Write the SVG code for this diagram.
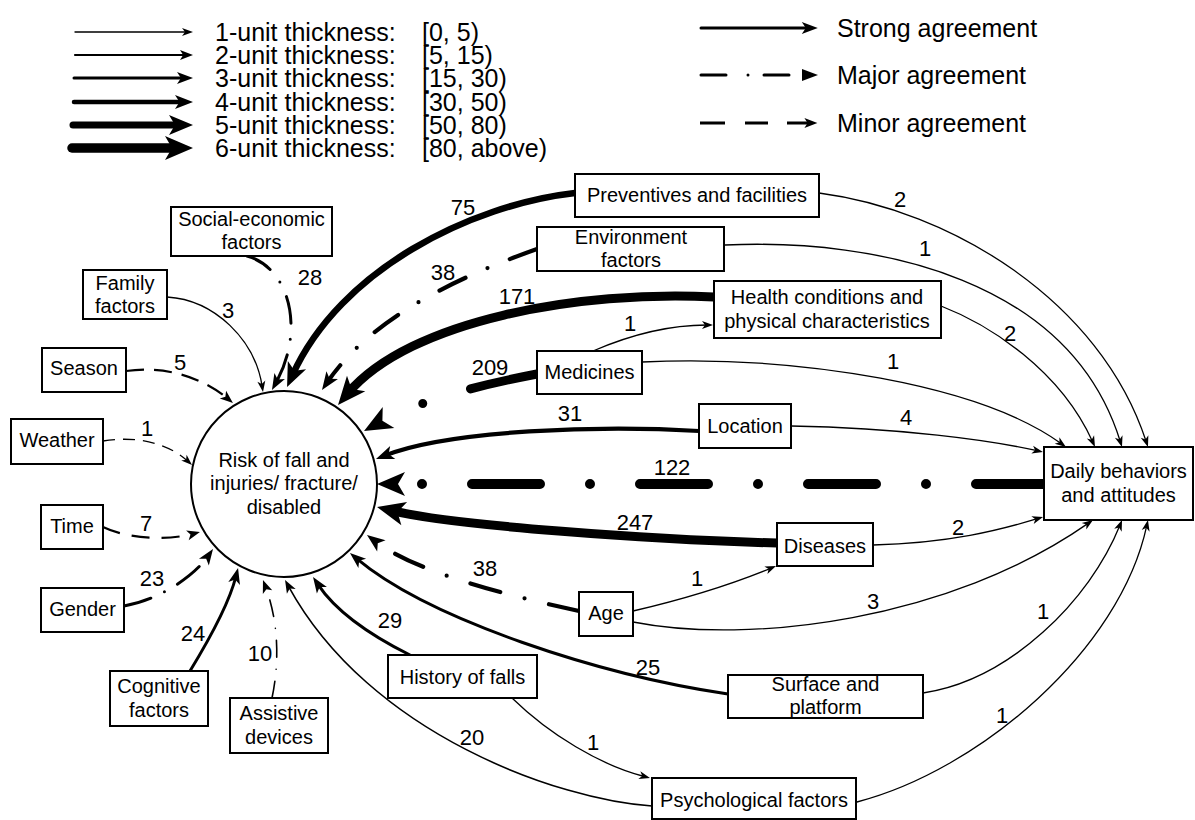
<svg xmlns="http://www.w3.org/2000/svg" width="1195" height="820" viewBox="0 0 1195 820">
<style>
text { font-family: "Liberation Sans", Arial, Helvetica, sans-serif; fill: #000; }
.lg { font-size: 25px; }
.nt { font-size: 20px; text-anchor: middle; }
.el { font-size: 22px; text-anchor: middle; }
.box { fill: #fff; stroke: #000; stroke-width: 2; }
.c { fill: none; stroke: #000; stroke-linecap: round; }
.mn { stroke-linecap: butt; }
.w1 { stroke-width: 1.3; }
.w15 { stroke-width: 1.6; }
.w2 { stroke-width: 2.2; }
.w3 { stroke-width: 3; }
.w4 { stroke-width: 4.2; }
.w5 { stroke-width: 6.5; }
.w6 { stroke-width: 9; }
.w6b { stroke-width: 10; }
</style>
<defs>
<marker id="s1" markerUnits="userSpaceOnUse" orient="auto" overflow="visible" markerWidth="1" markerHeight="1" refX="0" refY="0"><path d="M6,0 L-5,-4 L-2,0 L-5,4 Z"/></marker>
<marker id="s2" markerUnits="userSpaceOnUse" orient="auto" overflow="visible" markerWidth="1" markerHeight="1" refX="0" refY="0"><path d="M7.2,0 L-5.8,-5 L-2.6,0 L-5.8,5 Z"/></marker>
<marker id="s3" markerUnits="userSpaceOnUse" orient="auto" overflow="visible" markerWidth="1" markerHeight="1" refX="0" refY="0"><path d="M8.8,0 L-7.2,-6 L-3.2,0 L-7.2,6 Z"/></marker>
<marker id="s4" markerUnits="userSpaceOnUse" orient="auto" overflow="visible" markerWidth="1" markerHeight="1" refX="0" refY="0"><path d="M9.9,0 L-8.1,-7 L-3.6,0 L-8.1,7 Z"/></marker>
<marker id="s5" markerUnits="userSpaceOnUse" orient="auto" overflow="visible" markerWidth="1" markerHeight="1" refX="0" refY="0"><path d="M13.2,0 L-10.8,-10 L-4.8,0 L-10.8,10 Z"/></marker>
<marker id="s6" markerUnits="userSpaceOnUse" orient="auto" overflow="visible" markerWidth="1" markerHeight="1" refX="0" refY="0"><path d="M15.4,0 L-12.6,-12 L-5.6,0 L-12.6,12 Z"/></marker>
</defs>

<g id="legend">
<path class="c w1" d="M75,32 L187,32" marker-end="url(#s1)"/>
<path class="c w2" d="M75,55 L185.8,55" marker-end="url(#s2)"/>
<path class="c w3" d="M74,78 L184.2,78" marker-end="url(#s3)"/>
<path class="c" style="stroke-width:4.5" d="M74,102 L183.1,102" marker-end="url(#s4)"/>
<path class="c" style="stroke-width:7" d="M73,125 L179.8,125" marker-end="url(#s5)"/>
<path class="c" style="stroke-width:9.5" d="M72,148 L177.6,148" marker-end="url(#s6)"/>
<text class="lg" x="215" y="41">1-unit thickness:</text><text class="lg" x="422" y="41">[0, 5)</text>
<text class="lg" x="215" y="64">2-unit thickness:</text><text class="lg" x="422" y="64">[5, 15)</text>
<text class="lg" x="215" y="87">3-unit thickness:</text><text class="lg" x="422" y="87">[15, 30)</text>
<text class="lg" x="215" y="111">4-unit thickness:</text><text class="lg" x="422" y="111">[30, 50)</text>
<text class="lg" x="215" y="134">5-unit thickness:</text><text class="lg" x="422" y="134">[50, 80)</text>
<text class="lg" x="215" y="157">6-unit thickness:</text><text class="lg" x="422" y="157">[80, above)</text>

<path class="c w3" d="M701,28 L809,28" marker-end="url(#s3)"/>
<path class="c w3" d="M701,75 L726,75 M748,75 L748,75 M764,75 L789,75"/>
<path d="M802,69 L818,75 L802,81 Z"/>
<path class="c w3 mn" d="M700,123 L725,123 M745,123 L768,123 M787,123 L810.2,123" marker-end="url(#s2)"/>
<text class="lg" x="837" y="37">Strong agreement</text>
<text class="lg" x="837" y="84">Major agreement</text>
<text class="lg" x="837" y="132">Minor agreement</text>
</g>

<g id="connectors">
<!-- into Risk circle -->
<path class="c w3" style="stroke-dasharray:27 16 0 16" d="M247,256 C290,268 305,330 276.2,382.3" marker-end="url(#s3)"/>
<path class="c w1" d="M167,297 C215,300 255,340 262.1,386.1" marker-end="url(#s1)"/>
<path class="c w2 mn" style="stroke-dasharray:18 10" d="M126,371 C170,365 205,380 227.4,398.4" marker-end="url(#s2)"/>
<path class="c w1 mn" style="stroke-dasharray:12 8" d="M103,441 C140,435 170,445 187.6,461" marker-end="url(#s1)"/>
<path class="c w2 mn" style="stroke-dasharray:18 12" d="M103,527 C130,540 170,540 193,533.9" marker-end="url(#s2)"/>
<path class="c w3" style="stroke-dasharray:28 15 0 15" d="M124,606 C160,600 195,575 208,556.2" marker-end="url(#s3)"/>
<path class="c w3" d="M190,671 C215,630 230,600 235.9,576.5" marker-end="url(#s3)"/>
<path class="c w15" style="stroke-dasharray:17 12 0 12" d="M272,698 C280,660 278,620 265.5,586.7" marker-end="url(#s2)"/>
<path class="c w15" d="M652,806 C560,800 370,735 288.5,586.3" marker-end="url(#s2)"/>
<path class="c w3" d="M410,655 C370,635 335,610 317.9,584.3" marker-end="url(#s3)"/>
<path class="c w3" d="M728,694 C600,675 430,620 356.7,558.7" marker-end="url(#s3)"/>
<path class="c w4" style="stroke-dasharray:31 25 0 25" d="M579,611 C520,598 420,575 374.9,541" marker-end="url(#s4)"/>
<path class="c w6" d="M777,543 C650,540 450,525 392,510.7" marker-end="url(#s6)"/>
<path class="c w6b" style="stroke-dasharray:68 50 0 50" d="M1044,484 L392.4,484" marker-end="url(#s6)"/>
<path class="c w4" d="M699,431 C600,425 450,430 385.2,455.4" marker-end="url(#s4)"/>
<path class="c w6" style="stroke-dasharray:68 50 0 50" d="M537,374 C480,385 420,400 377.5,423.5" marker-end="url(#s6)"/>
<path class="c w6" d="M714,297 C580,290 410,320 348,393.2" marker-end="url(#s6)"/>
<path class="c w4" style="stroke-dasharray:29 24 0 24" d="M537,249 C450,280 370,320 327.6,381.8" marker-end="url(#s4)"/>
<path class="c w5" d="M575,193 C470,205 340,270 292.5,375" marker-end="url(#s5)"/>
<!-- into Daily behaviors -->
<path class="c w1" d="M819,193 C950,210 1100,300 1146.1,441.3" marker-end="url(#s1)"/>
<path class="c w1" d="M725,245 C880,238 1070,280 1120.2,441.3" marker-end="url(#s1)"/>
<path class="c w1" d="M941,306 C990,325 1060,370 1092.5,441.5" marker-end="url(#s1)"/>
<path class="c w1" d="M642,362 C800,355 980,385 1061.1,443.5" marker-end="url(#s1)"/>
<path class="c w1" d="M791,426 C900,428 990,440 1037.1,450.7" marker-end="url(#s1)"/>
<path class="c w1" d="M873,545 C950,543 1000,530 1037.3,518.7" marker-end="url(#s1)"/>
<path class="c w1" d="M633,622 C750,645 950,620 1088.1,523.4" marker-end="url(#s1)"/>
<path class="c w1" d="M923,693 C1010,680 1090,600 1119.8,525.6" marker-end="url(#s1)"/>
<path class="c w1" d="M857,802 C980,770 1120,650 1146.7,525.9" marker-end="url(#s1)"/>
<!-- others -->
<path class="c w1" d="M593,351 C630,335 670,325 707,325" marker-end="url(#s1)"/>
<path class="c w1" d="M633,611 C680,600 730,585 770.5,568.3" marker-end="url(#s1)"/>
<path class="c w1" d="M512,698 C550,735 600,765 644.2,776.5" marker-end="url(#s1)"/>
<!-- labels -->
<text class="el" x="463" y="215">75</text>
<text class="el" x="900" y="207">2</text>
<text class="el" x="443" y="280">38</text>
<text class="el" x="925" y="256">1</text>
<text class="el" x="517" y="304">171</text>
<text class="el" x="630" y="331">1</text>
<text class="el" x="1010" y="341">2</text>
<text class="el" x="490" y="375">209</text>
<text class="el" x="893" y="369">1</text>
<text class="el" x="570" y="421">31</text>
<text class="el" x="906" y="425">4</text>
<text class="el" x="672" y="475">122</text>
<text class="el" x="635" y="530">247</text>
<text class="el" x="958" y="535">2</text>
<text class="el" x="485" y="576">38</text>
<text class="el" x="697" y="586">1</text>
<text class="el" x="873" y="609">3</text>
<text class="el" x="390" y="628">29</text>
<text class="el" x="648" y="675">25</text>
<text class="el" x="1043" y="619">1</text>
<text class="el" x="472" y="745">20</text>
<text class="el" x="593" y="750">1</text>
<text class="el" x="1002" y="723">1</text>
<text class="el" x="310" y="285">28</text>
<text class="el" x="228" y="318">3</text>
<text class="el" x="180" y="370">5</text>
<text class="el" x="147" y="436">1</text>
<text class="el" x="146" y="531">7</text>
<text class="el" x="152" y="586">23</text>
<text class="el" x="193" y="641">24</text>
<text class="el" x="260" y="661">10</text>
</g>

<g id="risk"><circle class="box" cx="284" cy="484" r="93"/>
<text class="nt" x="284" y="467">Risk of fall and</text>
<text class="nt" x="284" y="490">injuries/ fracture/</text>
<text class="nt" x="284" y="514">disabled</text></g>

<g id="social"><rect class="box" x="171" y="207" width="161" height="49"/>
<text class="nt" x="251.5" y="226">Social-economic</text><text class="nt" x="251.5" y="249">factors</text></g>
<g id="family"><rect class="box" x="83" y="270" width="84" height="49"/>
<text class="nt" x="125" y="290">Family</text><text class="nt" x="125" y="313">factors</text></g>
<g id="season"><rect class="box" x="42" y="348" width="84" height="44"/>
<text class="nt" x="84" y="375">Season</text></g>
<g id="weather"><rect class="box" x="11" y="419" width="92" height="45"/>
<text class="nt" x="57" y="447">Weather</text></g>
<g id="time"><rect class="box" x="41" y="505" width="62" height="44"/>
<text class="nt" x="72" y="533">Time</text></g>
<g id="gender"><rect class="box" x="41" y="588" width="83" height="44"/>
<text class="nt" x="82.5" y="616">Gender</text></g>
<g id="cognitive"><rect class="box" x="110" y="671" width="98" height="55"/>
<text class="nt" x="159" y="693">Cognitive</text><text class="nt" x="159" y="717">factors</text></g>
<g id="assistive"><rect class="box" x="230" y="698" width="98" height="55"/>
<text class="nt" x="279" y="720">Assistive</text><text class="nt" x="279" y="744">devices</text></g>
<g id="preventives"><rect class="box" x="575" y="174" width="244" height="43"/>
<text class="nt" x="697" y="202">Preventives and facilities</text></g>
<g id="environment"><rect class="box" x="537" y="227" width="187" height="44"/>
<text class="nt" x="631" y="244">Environment</text><text class="nt" x="631" y="267">factors</text></g>
<g id="health"><rect class="box" x="714" y="281" width="227" height="57"/>
<text class="nt" x="827" y="304">Health conditions and</text><text class="nt" x="827" y="328">physical characteristics</text></g>
<g id="medicines"><rect class="box" x="537" y="351" width="105" height="43"/>
<text class="nt" x="589.5" y="379">Medicines</text></g>
<g id="location"><rect class="box" x="699" y="404" width="92" height="44"/>
<text class="nt" x="745" y="433">Location</text></g>
<g id="daily"><rect class="box" x="1044" y="447" width="149" height="73"/>
<text class="nt" x="1118.5" y="478">Daily behaviors</text><text class="nt" x="1118.5" y="502">and attitudes</text></g>
<g id="diseases"><rect class="box" x="777" y="523" width="96" height="43"/>
<text class="nt" x="825" y="553">Diseases</text></g>
<g id="age"><rect class="box" x="579" y="592" width="54" height="44"/>
<text class="nt" x="606" y="620">Age</text></g>
<g id="history"><rect class="box" x="388" y="655" width="149" height="43"/>
<text class="nt" x="462.5" y="684">History of falls</text></g>
<g id="surface"><rect class="box" x="728" y="675" width="195" height="43"/>
<text class="nt" x="825.5" y="691">Surface and</text><text class="nt" x="825.5" y="714">platform</text></g>
<g id="psychological"><rect class="box" x="652" y="778" width="204" height="41"/>
<text class="nt" x="754" y="807">Psychological factors</text></g>
</svg>
